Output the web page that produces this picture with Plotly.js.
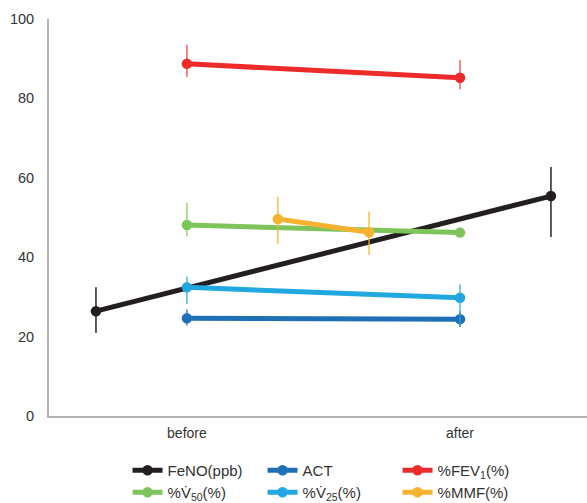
<!DOCTYPE html>
<html>
<head>
<meta charset="utf-8">
<script src="https://cdn.plot.ly/plotly-3.0.1.min.js"></script>
<style>html,body{margin:0;padding:0;background:#fff;}#chart{width:587px;height:503px;}</style>
</head>
<body>
<div id="chart"></div>
<script>
// Tick categories
var categories = ["before", "after"];
var categoryPos = [1, 2];

// Series: x = time position (before = 1, after = 2, some series drawn offset), y = mean, error up/down
var fenoX = [0.667, 2.333];
var fenoY = [26.4, 55.4];
var fenoErrUp = [6.0, 7.3];
var fenoErrDown = [5.5, 10.3];

var actX = [1, 2];
var actY = [24.6, 24.4];
var actErrUp = [2.2, 2.0];
var actErrDown = [1.8, 2.0];

var fev1X = [1, 2];
var fev1Y = [88.7, 85.2];
var fev1ErrUp = [4.8, 4.5];
var fev1ErrDown = [3.3, 2.9];

var v50X = [1, 2];
var v50Y = [48.1, 46.2];
var v50ErrUp = [5.6, 1.0];
var v50ErrDown = [2.9, 1.0];

var v25X = [1, 2];
var v25Y = [32.4, 29.8];
var v25ErrUp = [2.7, 3.4];
var v25ErrDown = [4.2, 7.4];

var mmfX = [1.333, 1.667];
var mmfY = [49.6, 46.3];
var mmfErrUp = [5.6, 5.2];
var mmfErrDown = [6.3, 5.7];

var names = ["FeNO(ppb)", "ACT", "%FEV<sub>1</sub>(%)", "%V\u0307<sub>50</sub>(%)", "%V\u0307<sub>25</sub>(%)", "%MMF(%)"];

function mk(x, y, up, down, name, color, errColor, legend) {
  return {
    type: "scatter", mode: "lines+markers",
    x: x, y: y, name: name, legend: legend,
    line: {color: color, width: 5},
    marker: {color: color, size: 10.5},
    error_y: {type: "data", symmetric: false, array: up, arrayminus: down,
              color: errColor, thickness: 1.6, width: 0},
    hoverinfo: "skip"
  };
}

var traces = [
  mk(fenoX, fenoY, fenoErrUp, fenoErrDown, names[0], "#231f20", "#333333", "legend"),
  mk(actX, actY, actErrUp, actErrDown, names[1], "#1f6fb7", "rgba(31,111,183,0.8)", "legend"),
  mk(fev1X, fev1Y, fev1ErrUp, fev1ErrDown, names[2], "#ee2b2b", "rgba(238,43,43,0.7)", "legend"),
  mk(v50X, v50Y, v50ErrUp, v50ErrDown, names[3], "#7dc55b", "rgba(125,197,91,0.75)", "legend2"),
  mk(v25X, v25Y, v25ErrUp, v25ErrDown, names[4], "#22a8e0", "rgba(34,168,224,0.75)", "legend2"),
  mk(mmfX, mmfY, mmfErrUp, mmfErrDown, names[5], "#f7b230", "rgba(247,178,48,0.8)", "legend2")
];

var legendCommon = {
  orientation: "h", xref: "paper", yref: "paper", xanchor: "left", yanchor: "top",
  font: {family: "Liberation Sans, Arial, sans-serif", size: 15, color: "#333333"},
  entrywidth: 90, entrywidthmode: "pixels", bgcolor: "rgba(0,0,0,0)", borderwidth: 0,
  itemclick: false, itemdoubleclick: false
};

var layout = {
  width: 587, height: 503,
  margin: {l: 49, r: 0, t: 19, b: 87, autoexpand: false},
  paper_bgcolor: "#ffffff", plot_bgcolor: "#ffffff",
  font: {family: "Liberation Sans, Arial, sans-serif", color: "#333333"},
  showlegend: true,
  xaxis: {
    range: [0.495, 2.465], tickmode: "array", tickvals: categoryPos, ticktext: categories,
    showgrid: false, zeroline: false, showline: true, linecolor: "#b3b3b3", linewidth: 2,
    ticks: "", tickfont: {size: 14, color: "#333333"}, ticklabelstandoff: 3
  },
  yaxis: {
    range: [0, 100], tickvals: [0, 20, 40, 60, 80, 100],
    showgrid: false, zeroline: false, showline: true, linecolor: "#b3b3b3", linewidth: 2,
    ticks: "", tickfont: {size: 14.5, color: "#333333"}, ticklabelstandoff: 10
  },
  legend: Object.assign({}, legendCommon, {x: 0.146, y: -0.0957}),
  legend2: Object.assign({}, legendCommon, {x: 0.146, y: -0.151})
};

Plotly.newPlot("chart", traces, layout, {displayModeBar: false, staticPlot: true});
</script>
</body>
</html>
